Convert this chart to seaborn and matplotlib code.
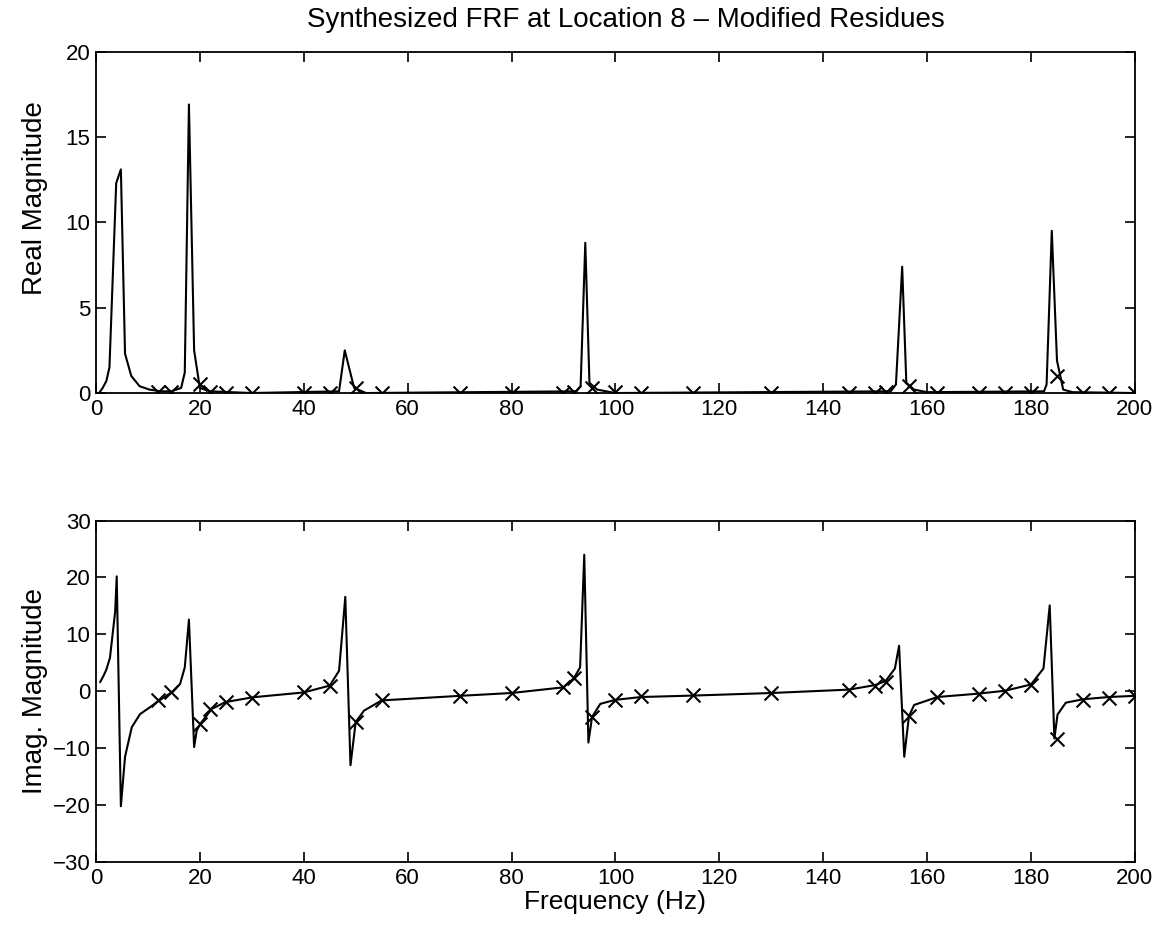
import numpy as np
import pandas as pd
import seaborn as sns
import matplotlib.pyplot as plt

# Synthesized FRF, real and imaginary parts

# continuous curve, real part
real_freq = [0, 0.6, 1.3, 2.0, 2.6, 3.9, 4.8, 5.6, 6.8, 8.4, 10.3, 12.5, 14.5, 16.4, 17.1,
             17.9, 18.9, 20.0, 22, 30, 46.8, 47.9, 49.7, 52, 92.5, 93.3, 94.2, 95.0, 96.5,
             100, 153, 154, 155.2, 156.0, 157.5, 160, 182.5, 183.0, 184.0, 185.0, 186.2,
             188, 200]
real_vals = [0.0, 0.0, 0.3, 0.7, 1.5, 12.3, 13.1, 2.3, 1.0, 0.4, 0.2, 0.1, 0.1, 0.3, 1.2,
             16.9, 2.5, 0.3, 0.1, 0.0, 0.1, 2.5, 0.3, 0.0, 0.1, 0.4, 8.8, 0.6, 0.2,
             0.0, 0.1, 0.5, 7.4, 0.6, 0.2, 0.05, 0.1, 0.5, 9.5, 1.9, 0.2,
             0.05, 0.0]

# continuous curve, imaginary part
imag_freq = [0.8, 1.5, 2.0, 2.7, 3.7, 4.0, 4.8, 5.6, 6.9, 8.5, 10.4, 12.2, 14.9, 16.2,
             17.1, 17.9, 18.9, 19.4, 20.1, 22.3, 24.9, 30.2, 40, 45, 46.8, 48.0, 49.0,
             50.0, 51.6, 55, 70, 80, 90, 92, 93.2, 94.0, 94.8, 95.5, 97.1, 100, 105, 115,
             130, 145, 150, 152, 153.8, 154.6, 155.6, 156.5, 157.5, 162, 170, 175, 180,
             182.4, 183.6, 184.5, 185.1, 186.7, 190, 195, 200]
imag_vals = [1.6, 2.8, 3.8, 5.9, 14.0, 20.2, -20.2, -11.5, -6.3, -4.0, -2.8, -1.6, 0.0, 1.3,
             4.2, 12.6, -9.8, -6.9, -5.7, -3.1, -1.9, -1.05, -0.2, 1.0, 3.6, 16.6, -13.0,
             -5.4, -3.4, -1.6, -0.8, -0.3, 0.7, 2.3, 4.2, 24.0, -9.0, -4.5, -2.2, -1.5,
             -1.0, -0.75, -0.3, 0.3, 1.1, 1.8, 4.0, 8.0, -11.5, -4.4, -2.4, -1.0, -0.4,
             0.1, 1.2, 4.0, 15.1, -8.3, -4.1, -2.0, -1.4, -1.0, -0.8]

# measured points (x markers)
meas_freq = [12, 14.5, 20, 22, 25, 30, 40, 45, 50, 55, 70, 80, 90, 92, 95.5, 100, 105, 115,
             130, 145, 150, 152, 156.5, 162, 170, 175, 180, 185, 190, 195, 200]
meas_real = [0.05, 0.05, 0.5, 0.05, 0.0, 0.0, 0.0, 0.0, 0.3, 0.0, 0.0, 0.0, 0.0, 0.05, 0.3,
             0.05, 0.0, 0.0, 0.0, 0.0, 0.0, 0.05, 0.4, 0.0, 0.0, 0.0, 0.0, 1.0, 0.0, 0.0, 0.0]
meas_imag = [-1.5, -0.2, -5.7, -3.1, -1.9, -1.1, -0.2, 1.0, -5.4, -1.6, -0.8, -0.3, 0.8, 2.3,
             -4.5, -1.5, -0.9, -0.6, -0.3, 0.2, 1.0, 1.7, -4.4, -1.0, -0.4, 0.0, 1.1, -8.4,
             -1.6, -1.1, -0.8]

sns.set_style("ticks")
plt.rcParams['font.family'] = ['Liberation Sans', 'DejaVu Sans']
plt.rcParams['xtick.direction'] = 'in'
plt.rcParams['ytick.direction'] = 'in'
plt.rcParams['xtick.top'] = True
plt.rcParams['ytick.right'] = True
plt.rcParams['text.color'] = 'black'
plt.rcParams['axes.labelcolor'] = 'black'

real_df = pd.DataFrame({'f': real_freq, 'v': real_vals})
imag_df = pd.DataFrame({'f': imag_freq, 'v': imag_vals})
meas_df = pd.DataFrame({'f': meas_freq, 're': meas_real, 'im': meas_imag})

fig = plt.figure(figsize=(11.7, 9.38), dpi=100)
ax1 = fig.add_axes([0.082, 0.581, 0.888, 0.364])
ax2 = fig.add_axes([0.082, 0.081, 0.888, 0.364])

sns.lineplot(data=real_df, x='f', y='v', ax=ax1, color='black', lw=1.5, estimator=None, sort=False)
sns.scatterplot(data=meas_df, x='f', y='re', ax=ax1, marker='x', s=100, color='black',
                linewidth=1.5, zorder=3)
sns.lineplot(data=imag_df, x='f', y='v', ax=ax2, color='black', lw=1.5, estimator=None, sort=False)
sns.scatterplot(data=meas_df, x='f', y='im', ax=ax2, marker='x', s=100, color='black',
                linewidth=1.5, zorder=3)

ax1.set_xlim(0, 200)
ax1.set_ylim(0, 20)
ax1.set_yticks(np.arange(0, 21, 5))
ax2.set_xlim(0, 200)
ax2.set_ylim(-30, 30)
ax2.set_yticks(np.arange(-30, 31, 10))

for ax in (ax1, ax2):
    ax.set_xticks(np.arange(0, 201, 20))
    ax.tick_params(labelsize=16, length=7, width=1.2, pad=4, colors='black')
    for sp in ax.spines.values():
        sp.set_linewidth(1.3)
        sp.set_color('black')
    ax.set_xlabel('')

ax1.set_title('Synthesized FRF at Location 8 – Modified Residues', fontsize=20, pad=18,
              x=0.51)
ax1.set_ylabel('Real Magnitude', fontsize=20)
ax2.set_ylabel('Imag. Magnitude', fontsize=20)
ax1.yaxis.set_label_coords(-0.046, 0.57)
ax2.yaxis.set_label_coords(-0.046, 0.5)
ax2.set_xlabel('Frequency (Hz)', fontsize=19, labelpad=1)

fig.savefig('out.png', dpi=100)
